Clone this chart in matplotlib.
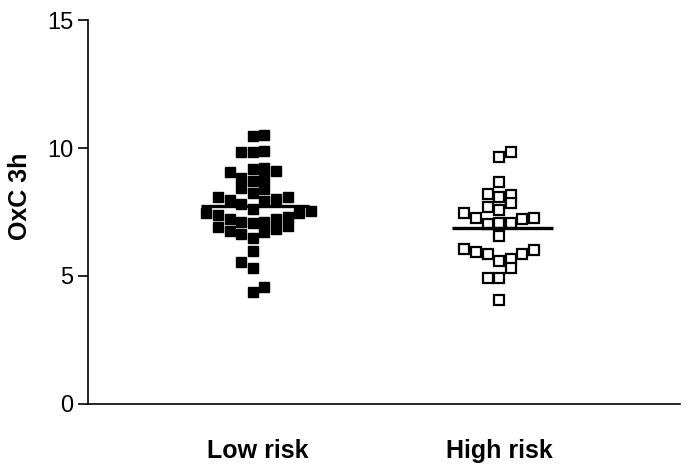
import matplotlib
matplotlib.use("Agg")
import matplotlib.pyplot as plt
import numpy as np

plt.rcParams['font.family'] = ['Liberation Sans', 'DejaVu Sans']

categories = ["Low risk", "High risk"]

# OxC 3h values, with their column in the scatter
low_vals = [10.47, 10.51, 9.83, 9.83, 9.90, 9.07, 9.20, 9.23, 9.11, 8.82, 8.72,
            8.82, 8.45, 8.25, 8.39, 8.09, 7.97, 7.81, 7.93, 8.00, 8.09, 7.62,
            7.45, 7.38, 7.45, 7.54, 7.21, 7.12, 7.08, 7.12, 7.21, 7.29, 6.90,
            6.77, 6.64, 6.71, 6.84, 6.95, 6.50, 5.98, 5.56, 5.33, 4.58, 4.36]
low_col = [0, 1, -1, 0, 1, -2, 0, 1, 2, -1, 0,
           1, -1, 0, 1, -3, -2, -1, 1, 2, 3, 0,
           -4, -3, 4, 5, -2, -1, 0, 1, 2, 3, -3,
           -2, -1, 1, 2, 3, 0, 0, -1, 0, 1, 0]

high_vals = [9.66, 9.86, 8.66, 8.19, 8.10, 8.16, 7.71, 7.58, 7.84, 7.47, 7.25,
             7.23, 7.28, 7.05, 7.08, 7.08, 6.58, 6.04, 5.93, 5.85, 5.60, 5.65,
             5.33, 5.86, 6.02, 4.91, 4.91, 4.06]
high_col = [0, 1, 0, -1, 0, 1, -1, 0, 1, -3, -2,
            2, 3, -1, 0, 1, 0, -3, -2, -1, 0, 1,
            1, 2, 3, -1, 0, 0]

group_means = [7.73, 6.87]

step = 0.047  # horizontal spacing between columns

fig = plt.figure(figsize=(7, 4.68), dpi=100)
ax = fig.add_axes([0.126, 0.137, 0.845, 0.82])

x_low = 1 + step * np.array(low_col)
x_high = 2 + step * np.array(high_col)
ax.plot(x_low, low_vals, 's', ms=7, color='black', mec='black', linestyle='none')
ax.plot(x_high, high_vals, 's', ms=6.5, mfc='white', mec='black', mew=1.6,
        linestyle='none')

ax.hlines(group_means[0], 0.79, 1.23, color='black', lw=2.4, zorder=3)
ax.hlines(group_means[1], 1.81, 2.22, color='black', lw=2.4, zorder=3)

ax.set_xlim(0.332, 2.733)
ax.set_ylim(0, 15)
ax.set_yticks([0, 5, 10, 15])
ax.tick_params(axis='y', labelsize=17, length=7, width=1.2, direction='out')
ax.set_xticks([1.02, 2.0])
ax.set_xticklabels(categories, fontsize=18, fontweight='bold')
ax.tick_params(axis='x', length=0, pad=25)
ax.set_ylabel("OxC 3h", fontsize=18, fontweight='bold')
ax.yaxis.set_label_coords(-0.095, 0.54)

for s in ['top', 'right']:
    ax.spines[s].set_visible(False)
for s in ['left', 'bottom']:
    ax.spines[s].set_linewidth(1.2)

fig.savefig("out.png", dpi=100)
